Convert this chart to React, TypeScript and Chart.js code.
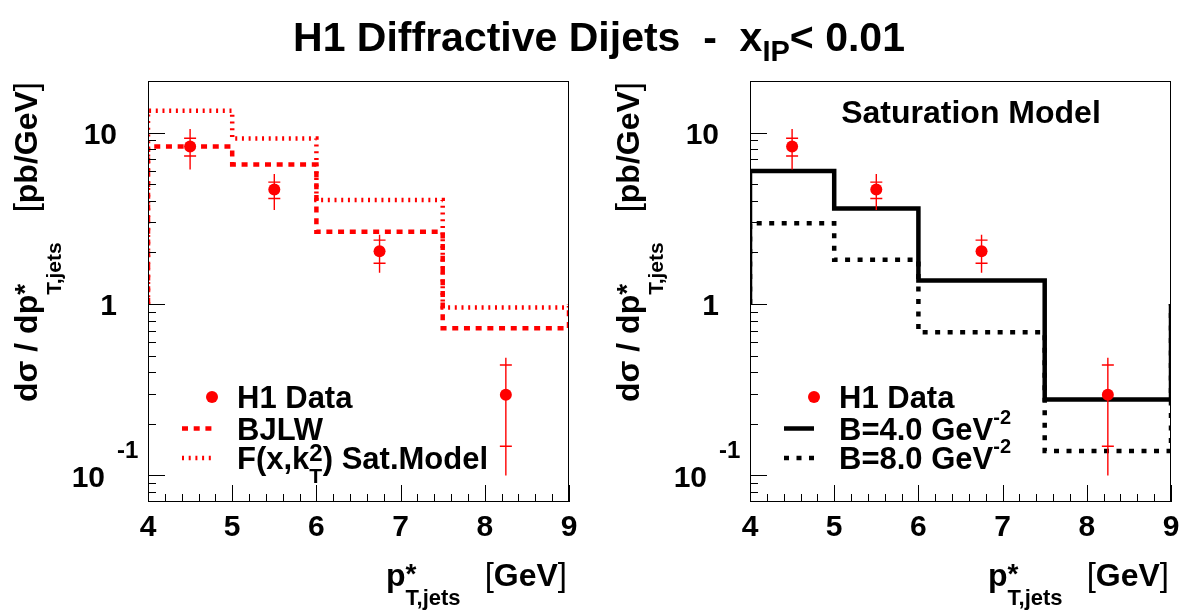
import React, { useEffect, useRef } from "react";
import { Chart, registerables } from "chart.js";
Chart.register(...registerables);

// ---------- data ----------
const binEdges = [4, 5, 6, 7.5, 9];
const dataX = [4.5, 5.5, 6.75, 8.25];
const dataY = [8.3, 4.65, 2.03, 0.296];
const statHi = [9.27, 5.14, 2.36, 0.441];
const statLo = [7.3, 4.13, 1.73, 0.148];
const totHi = [10.5, 5.73, 2.54, 0.486];
const totLo = [6.09, 3.53, 1.52, 0.1];
const bjlw = [8.3, 6.52, 2.64, 0.723];
const satF = [13.4, 9.23, 4.04, 0.953];
const satB4 = [5.98, 3.61, 1.37, 0.277];
const satB8 = [2.96, 1.81, 0.684, 0.139];
const histBase = 1;
const xTickValues = [4, 5, 6, 7, 8, 9];
const xTickLabels = ["4", "5", "6", "7", "8", "9"];
const yMajorValues = [0.1, 1, 10];
const yMajorLabels = [["10", "-1"], ["1", ""], ["10", ""]];
const xMin = 4, xMax = 9, yMin = 0.07, yMax = 20;

const RED = "#ff0000";
const BLACK = "#000000";
const FONT = (s: number, thin?: boolean) =>
  `${thin ? "normal" : "bold"} ${s}px "Liberation Sans", Arial, Helvetica, sans-serif`;

type Seg = { t: string; size: number; dy?: number; stack?: boolean; thin?: boolean };

function drawRich(ctx: CanvasRenderingContext2D, x: number, y: number, segs: Seg[]) {
  let cx = x;
  let pendingW = 0;
  for (let i = 0; i < segs.length; i++) {
    const s = segs[i];
    ctx.font = FONT(s.size, s.thin);
    const w = ctx.measureText(s.t).width;
    ctx.fillText(s.t, cx, y + (s.dy || 0));
    if (s.stack) {
      pendingW = w;
    } else {
      cx += Math.max(w, pendingW);
      pendingW = 0;
    }
  }
  return cx - x;
}
function richWidth(ctx: CanvasRenderingContext2D, segs: Seg[]) {
  let tot = 0, pending = 0;
  for (const s of segs) {
    ctx.font = FONT(s.size, s.thin);
    const w = ctx.measureText(s.t).width;
    if (s.stack) pending = w; else { tot += Math.max(w, pending); pending = 0; }
  }
  return tot;
}

function steps(vals: number[]) {
  const pts = [{ x: binEdges[0], y: histBase }];
  vals.forEach((v, i) => {
    pts.push({ x: binEdges[i], y: v });
    pts.push({ x: binEdges[i + 1], y: v });
  });
  pts.push({ x: binEdges[binEdges.length - 1], y: histBase });
  return pts;
}

type LegendEntry = { kind: "dot" | "line"; color: string; dash?: number[]; width?: number; label: Seg[] };
type Hist = { vals: number[]; color: string; dash: number[]; width: number };
type Panel = { id: string; hists: Hist[]; legend: LegendEntry[]; header?: string; mainTitle?: boolean };

const DASH_RED = [6, 5.7];
const DOT_RED = [2, 4.7];
const DOT_BLACK = [5, 7.5];

const leftPanel: Panel = {
  id: "L",
  mainTitle: true,
  hists: [
    { vals: bjlw, color: RED, dash: DASH_RED, width: 4.5 },
    { vals: satF, color: RED, dash: DOT_RED, width: 4.5 },
  ],
  legend: [
    { kind: "dot", color: RED, label: [{ t: "H1 Data", size: 31 }] },
    { kind: "line", color: RED, dash: DASH_RED, width: 4.5, label: [{ t: "BJLW", size: 31 }] },
    {
      kind: "line", color: RED, dash: DOT_RED, width: 4.5,
      label: [
        { t: "F(x,k", size: 31 },
        { t: "2", size: 24, dy: -8, stack: true },
        { t: "T", size: 21, dy: 14 },
        { t: ") Sat.Model", size: 31 },
      ],
    },
  ],
};
const rightPanel: Panel = {
  id: "R",
  header: "Saturation Model",
  hists: [
    { vals: satB4, color: BLACK, dash: [], width: 4.5 },
    { vals: satB8, color: BLACK, dash: DOT_BLACK, width: 4.5 },
  ],
  legend: [
    { kind: "dot", color: RED, label: [{ t: "H1 Data", size: 31 }] },
    { kind: "line", color: BLACK, dash: [], width: 4.5, label: [{ t: "B=4.0 GeV", size: 31 }, { t: "-2", size: 20, dy: -16 }] },
    { kind: "line", color: BLACK, dash: DOT_BLACK, width: 4.5, label: [{ t: "B=8.0 GeV", size: 31 }, { t: "-2", size: 20, dy: -16 }] },
  ],
};

function decor(panel: Panel) {
  return {
    id: "decor" + panel.id,
    afterDatasetsDraw(chart: any) {
      const ctx: CanvasRenderingContext2D = chart.ctx;
      const xs = chart.scales.x, ys = chart.scales.y;
      ctx.save();
      ctx.strokeStyle = RED;
      ctx.lineWidth = 1.4;
      ctx.setLineDash([]);
      dataX.forEach((xv, i) => {
        const px = xs.getPixelForValue(xv);
        ctx.beginPath();
        ctx.moveTo(px, ys.getPixelForValue(totHi[i]));
        ctx.lineTo(px, ys.getPixelForValue(totLo[i]));
        const a = ys.getPixelForValue(statHi[i]);
        const b = ys.getPixelForValue(statLo[i]);
        ctx.moveTo(px - 6, a); ctx.lineTo(px + 6, a);
        ctx.moveTo(px - 6, b); ctx.lineTo(px + 6, b);
        ctx.stroke();
      });
      ctx.restore();
    },
    afterDraw(chart: any) {
      const ctx: CanvasRenderingContext2D = chart.ctx;
      const xs = chart.scales.x, ys = chart.scales.y;
      const { left, right, top, bottom } = chart.chartArea;
      ctx.save();
      ctx.setLineDash([]);
      // frame
      ctx.strokeStyle = BLACK;
      ctx.lineWidth = 1;
      ctx.strokeRect(left + 0.5, top + 0.5, right - left - 1, bottom - top - 1);
      // y ticks
      ctx.beginPath();
      for (let e = -2; e <= 1; e++) {
        for (let m = 1; m <= 9; m++) {
          const v = m * Math.pow(10, e);
          if (v <= yMin * 1.0001 || v >= yMax * 0.9999) continue;
          const py = Math.round(ys.getPixelForValue(v)) + 0.5;
          ctx.moveTo(left, py);
          ctx.lineTo(left + (m === 1 ? 17 : 8), py);
        }
      }
      // x ticks
      for (let k = 0; k <= 25; k++) {
        const v = xMin + k * 0.2;
        const px = Math.round(xs.getPixelForValue(v)) + 0.5;
        const major = k % 5 === 0;
        ctx.moveTo(px, bottom);
        ctx.lineTo(px, bottom - (major ? 17 : 8));
      }
      ctx.stroke();

      ctx.fillStyle = BLACK;
      // x tick labels
      ctx.textAlign = "center";
      ctx.textBaseline = "alphabetic";
      ctx.font = FONT(30);
      xTickValues.forEach((v, i) => {
        ctx.fillText(xTickLabels[i], xs.getPixelForValue(v), 536);
      });
      // y tick labels
      yMajorValues.forEach((v, i) => {
        const py = ys.getPixelForValue(v);
        const [base, exp] = yMajorLabels[i];
        ctx.font = FONT(30);
        if (exp) {
          ctx.textAlign = "right";
          ctx.fillText(base, left - 43, py + 12);
          ctx.textAlign = "left";
          ctx.font = FONT(24);
          ctx.fillText(exp, left - 31, py - 17);
        } else {
          ctx.textAlign = "right";
          ctx.fillText(base, left - 31, py + 11);
        }
      });

      // x axis title
      ctx.textAlign = "left";
      drawRich(ctx, left + 238, 586, [
        { t: "p", size: 32 },
        { t: "*", size: 28, dy: -3, stack: true },
        { t: "T,jets", size: 22, dy: 19 },
      ]);
      const gev: Seg[] = [
        { t: "[", size: 33, thin: true },
        { t: "GeV", size: 32 },
        { t: "]", size: 33, thin: true },
      ];
      drawRich(ctx, right - 2 - richWidth(ctx, gev), 586, gev);

      // y axis title (rotated)
      ctx.save();
      ctx.translate(left - 111.5, 402);
      ctx.rotate(-Math.PI / 2);
      ctx.textAlign = "left";
      drawRich(ctx, 0, 0, [
        { t: "d\u03c3 / dp", size: 32 },
        { t: "*", size: 28, dy: -3, stack: true },
        { t: "T,jets", size: 21, dy: 24 },
      ]);
      const unit: Seg[] = [
        { t: "[", size: 33, thin: true },
        { t: "pb/GeV", size: 32 },
        { t: "]", size: 33, thin: true },
      ];
      drawRich(ctx, 320 - richWidth(ctx, unit), 0, unit);
      ctx.restore();

      // legend
      const rows = [397, 428.5, 458];
      panel.legend.forEach((en, i) => {
        const cy = rows[i];
        if (en.kind === "dot") {
          ctx.fillStyle = en.color;
          ctx.beginPath();
          ctx.arc(left + 64, cy, 6, 0, Math.PI * 2);
          ctx.fill();
        } else {
          ctx.strokeStyle = en.color;
          ctx.lineWidth = en.width || 4;
          ctx.lineCap = "butt";
          ctx.setLineDash(en.dash || []);
          ctx.beginPath();
          ctx.moveTo(left + 34, cy);
          ctx.lineTo(left + 64, cy);
          ctx.stroke();
          ctx.setLineDash([]);
        }
        ctx.fillStyle = BLACK;
        ctx.textAlign = "left";
        drawRich(ctx, left + 89, cy + 11, en.label);
      });

      // header inside the frame
      if (panel.header) {
        ctx.textAlign = "center";
        ctx.font = FONT(32);
        ctx.fillStyle = BLACK;
        ctx.fillText(panel.header, left + 221, 123);
      }

      // main title
      if (panel.mainTitle) {
        const segs: Seg[] = [
          { t: "H1 Diffractive Dijets  -  x", size: 41 },
          { t: "IP", size: 29, dy: 10 },
          { t: "< 0.01", size: 41 },
        ];
        ctx.textAlign = "left";
        const w = richWidth(ctx, segs);
        drawRich(ctx, 599 - w / 2, 51, segs);
      }
      ctx.restore();
    },
  };
}

function makeChart(canvas: HTMLCanvasElement, panel: Panel) {
  const datasets: any[] = [
    {
      data: dataX.map((x, i) => ({ x, y: dataY[i] })),
      pointRadius: 6,
      pointBackgroundColor: RED,
      pointBorderWidth: 0,
      showLine: false,
    },
    ...panel.hists.map((h) => ({
      data: steps(h.vals),
      showLine: true,
      pointRadius: 0,
      borderColor: h.color,
      borderWidth: h.width,
      borderDash: h.dash,
      borderCapStyle: "butt",
      borderJoinStyle: "miter",
      fill: false,
      tension: 0,
    })),
  ];
  return new Chart(canvas, {
    type: "scatter",
    data: { datasets },
    options: {
      responsive: false,
      animation: false,
      devicePixelRatio: 1,
      events: [],
      layout: { padding: { left: 148, top: 81, right: canvas.width - 569, bottom: 610 - 502 } },
      scales: {
        x: { type: "linear", min: xMin, max: xMax, display: false },
        y: { type: "logarithmic", min: yMin, max: yMax, display: false },
      },
      plugins: { legend: { display: false }, tooltip: { enabled: false } },
    } as any,
    plugins: [decor(panel)],
  });
}

export default function App() {
  const leftRef = useRef<HTMLCanvasElement>(null);
  const rightRef = useRef<HTMLCanvasElement>(null);
  useEffect(() => {
    const c1 = makeChart(leftRef.current!, leftPanel);
    const c2 = makeChart(rightRef.current!, rightPanel);
    return () => {
      c1.destroy();
      c2.destroy();
    };
  }, []);
  return (
    <div style={{ position: "fixed", left: 0, top: 0, width: 1181, height: 610, background: "#fff" }}>
      <canvas ref={leftRef} width={1181} height={610} style={{ position: "absolute", left: 0, top: 0, width: 1181, height: 610 }} />
      <canvas ref={rightRef} width={579} height={610} style={{ position: "absolute", left: 602, top: 0, width: 579, height: 610 }} />
    </div>
  );
}
